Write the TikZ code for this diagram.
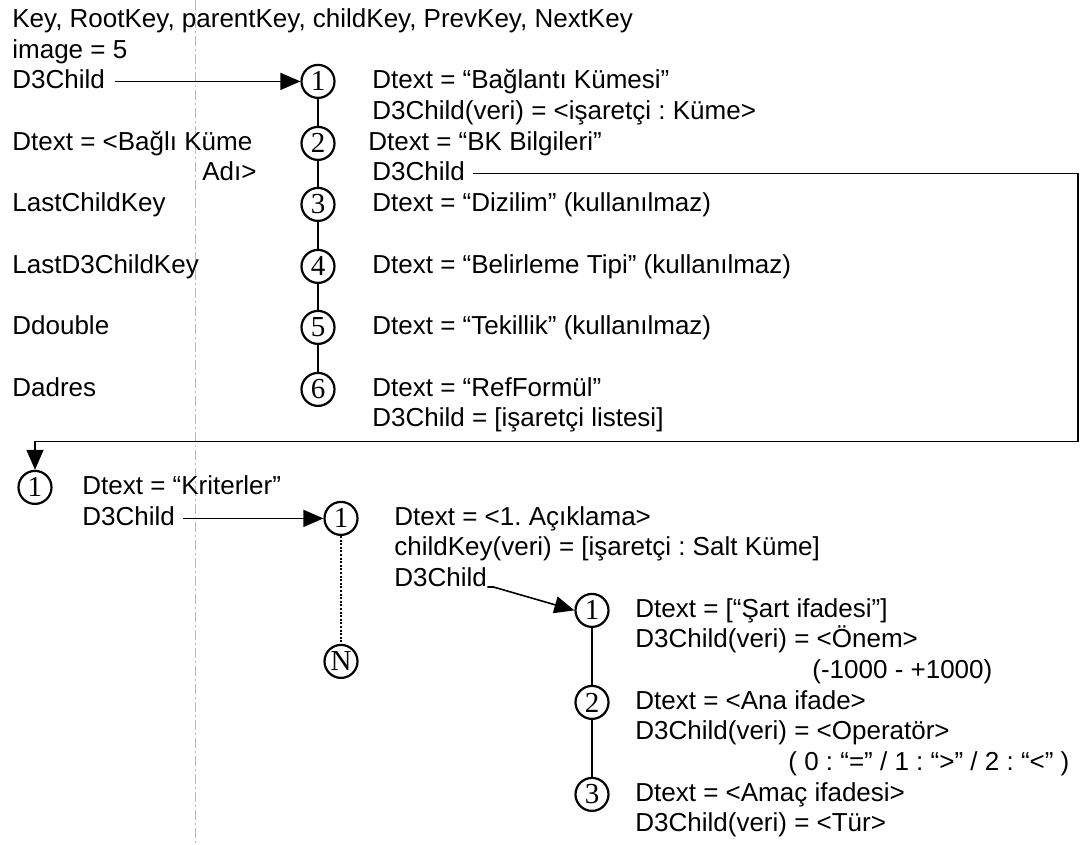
\documentclass[tikz,border=0pt]{standalone}
\usepackage{fontspec}
\setmainfont{Liberation Sans}
\newfontfamily\numfont{Liberation Serif}
\usetikzlibrary{arrows.meta}
\frenchspacing
\tikzset{
  txt/.style      = {anchor=west, inner sep=0pt, text height=0.716em, text depth=0pt,
                     font=\fontsize{13}{15.3}\selectfont},
  numnode/.style  = {draw, circle, line width=1.1pt, minimum size=16.5pt, inner sep=0pt,
                     font=\fontsize{14.5}{14.5}\numfont},
  link/.style     = {line width=1pt},
  arr/.style      = {-{Triangle[length=10pt,width=8.5pt]}, line width=0.8pt},
  scanline/.style = {gray!55, line width=0.4pt, dash pattern=on 5pt off 1.5pt on 1pt off 1.5pt}
}
\begin{document}
\begin{tikzpicture}[x=0.5pt,y=-0.5pt]
  \fill[white] (0,0) rectangle (1082,844);
  \draw[scanline] (195,0) -- (195,844);
  % left column
  \node[txt] (k1) at (12,20)  {Key, RootKey, parentKey, childKey, PrevKey, NextKey};
  \node[txt] (k2) at (12,51)  {image = 5};
  \node[txt] (k3) at (12,81)  {D3Child};
  \node[txt] (k4) at (12,143) {Dtext = <Bağlı Küme};
  \node[txt] (k5) at (202,173) {Adı>};
  \node[txt] (k6) at (12,204) {LastChildKey};
  \node[txt] (k7) at (12,266) {LastD3ChildKey};
  \node[txt] (k8) at (12,327) {Ddouble};
  \node[txt] (k9) at (12,389) {Dadres};
  % first chain
  \foreach \n/\y in {1/81,2/143,3/204,4/266,5/327,6/389}
    \node[numnode] (t\n) at (318,\y) {\n};
  \foreach \a/\b in {1/2,2/3,3/4,4/5,5/6}
    \draw[link] (t\a) -- (t\b);
  \draw[arr] ([xshift=5pt]k3.east) -- (t1.west);
  \node[txt] (c1) at (372,81)  {Dtext = “Bağlantı Kümesi”};
  \node[txt] (c2) at (372,112) {D3Child(veri) = <işaretçi : Küme>};
  \node[txt] (c3) at (368,143) {Dtext = “BK Bilgileri”};
  \node[txt] (c4) at (372,173) {D3Child};
  \node[txt] (c5) at (372,204) {Dtext = “Dizilim” (kullanılmaz)};
  \node[txt] (c6) at (372,266) {Dtext = “Belirleme Tipi” (kullanılmaz)};
  \node[txt] (c7) at (372,327) {Dtext = “Tekillik” (kullanılmaz)};
  \node[txt] (c8) at (372,389) {Dtext = “RefFormül”};
  \node[txt] (c9) at (372,419) {D3Child = [işaretçi listesi]};
  % criteria
  \node[numnode] (b1) at (35,487) {1};
  \coordinate (turn) at (1078,441);
  \draw[arr] ([xshift=4pt]c4.east) -| (turn) -| (b1.north);
  \node[txt] (bt1) at (82,487) {Dtext = “Kriterler”};
  \node[txt] (bt2) at (82,518) {D3Child};
  \node[numnode] (m1) at (341,518) {1};
  \node[numnode] (mN) at (341,661) {N};
  \draw[link, dash pattern=on 1pt off 0.8pt] (m1) -- (mN);
  \draw[arr] ([xshift=4pt]bt2.east) -- (m1.west);
  \node[txt] (mt1) at (394,518) {Dtext = <1. Açıklama>};
  \node[txt] (mt2) at (394,548) {childKey(veri) = [işaretçi : Salt Küme]};
  \node[txt] (mt3) at (394,579) {D3Child};
  % statement chain
  \foreach \n/\y in {1/610,2/702,3/794}
    \node[numnode] (r\n) at (592,\y) {\n};
  \draw[link] (r1) -- (r2);
  \draw[link] (r2) -- (r3);
  \draw[arr] (mt3.south east) -- ++(6,0) -- (r1.west);
  \node[txt] (rt1) at (635,610) {Dtext = [“Şart ifadesi”]};
  \node[txt] (rt2) at (635,640) {D3Child(veri) = <Önem>};
  \node[txt] (rt3) at (812,671) {(-1000 - +1000)};
  \node[txt] (rt4) at (635,702) {Dtext = <Ana ifade>};
  \node[txt] (rt5) at (635,732) {D3Child(veri) = <Operatör>};
  \node[txt] (rt6) at (788,763) {( 0 : “=” / 1 : “>” / 2 : “<” )};
  \node[txt] (rt7) at (635,794) {Dtext = <Amaç ifadesi>};
  \node[txt] (rt8) at (635,824) {D3Child(veri) = <Tür>};
\end{tikzpicture}
\end{document}
